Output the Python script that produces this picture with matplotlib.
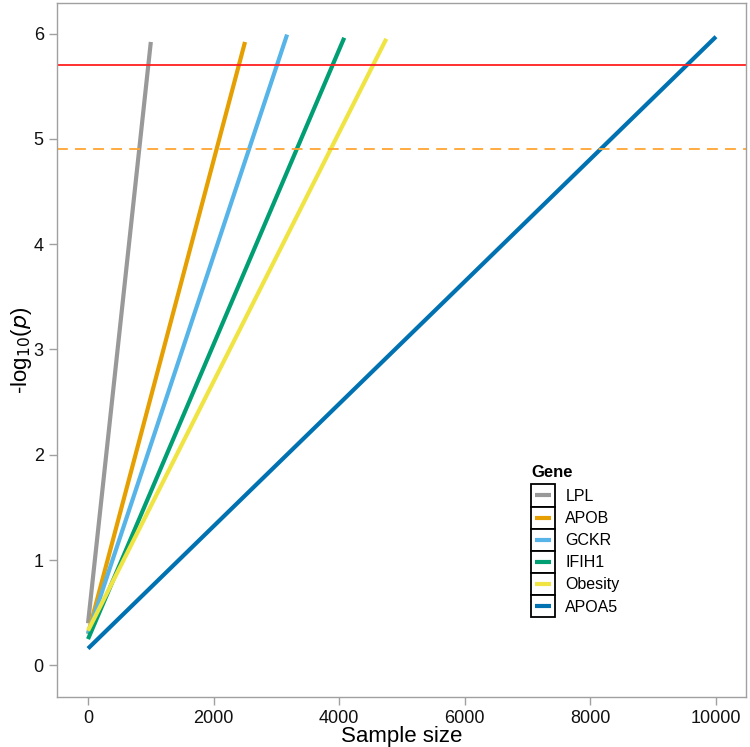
import numpy as np
import matplotlib.pyplot as plt
from matplotlib.patches import Rectangle
from matplotlib.lines import Line2D

plt.rcParams['font.family'] = ['Liberation Sans', 'DejaVu Sans']

genes = ["LPL", "APOB", "GCKR", "IFIH1", "Obesity", "APOA5"]
colors = ["#999999", "#E69F00", "#56B4E9", "#009E73", "#F0E442", "#0072B2"]
start_n = [0, 0, 0, 0, 0, 0]
end_n = [1000, 2500, 3170, 4080, 4750, 10000]
start_p = [0.40, 0.30, 0.30, 0.25, 0.33, 0.16]
end_p = [5.92, 5.92, 5.99, 5.96, 5.95, 5.97]

genome_wide = 5.70
suggestive = 4.90


class BoxedLine:
    def __init__(self, color):
        self.color = color


class BoxedLineHandler:
    def legend_artist(self, legend, orig_handle, fontsize, handlebox):
        x0, y0 = -handlebox.xdescent, -handlebox.ydescent
        w, h = handlebox.width, handlebox.height
        box = Rectangle((x0, y0), w, h, facecolor='white', edgecolor='black',
                        lw=1.3, transform=handlebox.get_transform())
        pad = w * 0.15
        line = Line2D([x0 + pad, x0 + w - pad], [y0 + h / 2, y0 + h / 2],
                      color=orig_handle.color, lw=3, solid_capstyle='butt',
                      transform=handlebox.get_transform())
        handlebox.add_artist(box)
        handlebox.add_artist(line)
        return box


fig = plt.figure(figsize=(7.5, 7.47), dpi=100)
ax = fig.add_axes([57 / 750, 50 / 747, 689 / 750, 694 / 747])

for g, c, n0, n1, p0, p1 in zip(genes, colors, start_n, end_n, start_p, end_p):
    ax.plot([n0, n1], [p0, p1], color=c, lw=3, solid_capstyle='butt', label=g)

ax.axhline(genome_wide, color='#FF2020', lw=1.3)
ax.axhline(suggestive, color='#FFA530', lw=1.3, ls=(0, (6, 4)))

ax.set_xlim(-494, 10478)
ax.set_ylim(-0.30, 6.29)
ax.set_xticks([0, 2000, 4000, 6000, 8000, 10000])
ax.set_yticks([0, 1, 2, 3, 4, 5, 6])

for s in ax.spines.values():
    s.set_color('#A0A0A0')
    s.set_linewidth(1.0)
ax.tick_params(axis='both', colors='#A0A0A0', labelcolor='#111111',
               labelsize=13, length=6, width=1.0, direction='out')

ax.set_xlabel("Sample size", fontsize=16, labelpad=-1)
ax.set_ylabel("-log$_{10}$($p$)", fontsize=16, labelpad=0)

handles = [BoxedLine(c) for c in colors]
leg = ax.legend(handles, genes, handler_map={BoxedLine: BoxedLineHandler()},
                loc='upper left', bbox_to_anchor=(0.688, 0.334), frameon=False,
                title="Gene", title_fontproperties={'weight': 'bold', 'size': 12},
                fontsize=11.5, handlelength=1.5, handleheight=1.76,
                labelspacing=0, handletextpad=0.65, borderpad=0,
                borderaxespad=0, alignment='left')
leg._legend_box.sep = 3

fig.savefig("out.png", dpi=100)
